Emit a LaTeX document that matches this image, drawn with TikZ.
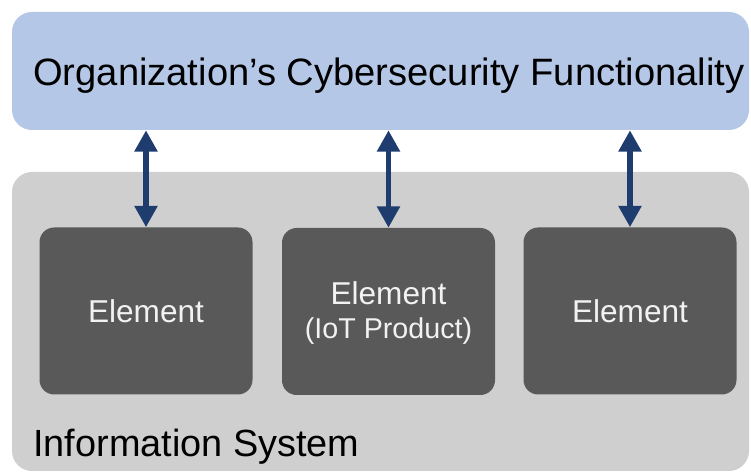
\documentclass[tikz,border=0pt]{standalone}
\usepackage{fontspec}
\setmainfont{Liberation Sans}
\usetikzlibrary{arrows.meta}

\definecolor{barblue}{HTML}{B4C7E7}
\definecolor{sysgray}{HTML}{D0CFCF}
\definecolor{elemgray}{HTML}{595959}
\definecolor{linknavy}{HTML}{1F3C6E}

\tikzset{
  elembox/.style={fill=elemgray, rounded corners=11pt, minimum width=159.75pt, minimum height=125.25pt, inner sep=0pt},
  elemtext/.style={anchor=base, inner sep=0pt, text=white!95!black, font=\fontsize{23.7}{28}\selectfont},
  link/.style={draw=linknavy, line width=4.3pt, {Triangle[width=16.5pt,length=16pt]}-{Triangle[width=16.5pt,length=16pt]}}
}

\begin{document}
\begin{tikzpicture}[x=0.75pt,y=0.75pt,yscale=-1,xscale=1]
\useasboundingbox (0,0) rectangle (751,474);

% Shape: top bar
\node (orgbar) [fill=barblue, rounded corners=15pt, minimum width=552.75pt, minimum height=88.5pt, inner sep=0pt] at (380.5,71) {};
% Shape: system box
\node (sysbox) [fill=sysgray, rounded corners=15pt, minimum width=552.75pt, minimum height=224.25pt, inner sep=0pt] at (380.5,321.5) {};

% Shape: elements
\node (elemA) [elembox] at (146,311) {};
\node (elemB) [elembox] at (388.5,311.5) {};
\node (elemC) [elembox] at (630,311) {};

% Text Node
\node (orgtext) [anchor=base west, inner sep=0pt, font=\fontsize{28.6}{34}\selectfont] at (33,86) {Organization’s Cybersecurity Functionality};
% Text Node
\node (systext) [anchor=base west, inner sep=0pt, font=\fontsize{28.4}{34}\selectfont] at (33,456) {Information System};
% Text Node
\node (elemAtext) [elemtext] at (146,323) {Element};
\node (elemBtext) [elemtext] at (388.5,305) {Element};
\node (elemBsub) [elemtext, font=\fontsize{21.5}{26}\selectfont] at (388.5,339) {(IoT Product)};
\node (elemCtext) [elemtext] at (630,323) {Element};

% Arrows
\draw [link] (elemA.north |- orgbar.south) -- (elemA.north);
\draw [link] (elemB.north |- orgbar.south) -- (elemB.north);
\draw [link] (elemC.north |- orgbar.south) -- (elemC.north);

\end{tikzpicture}
\end{document}
